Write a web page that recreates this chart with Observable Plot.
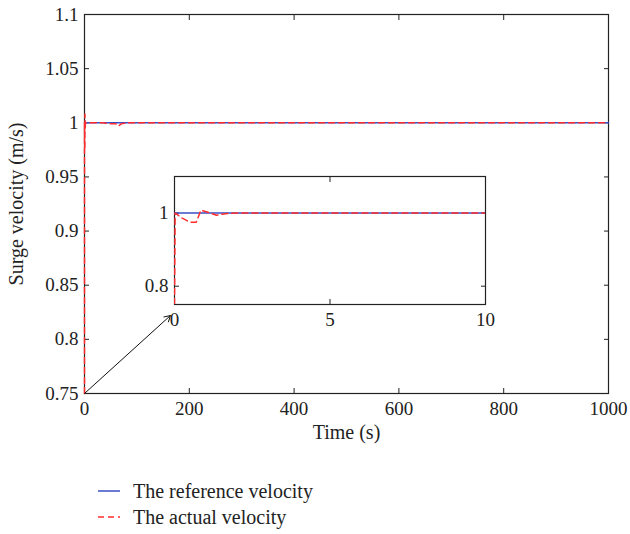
<!DOCTYPE html>
<html>
<head>
<meta charset="utf-8">
<script src="https://cdn.jsdelivr.net/npm/d3@7"></script>
<script src="https://cdn.jsdelivr.net/npm/@observablehq/plot@0.6"></script>
<style>
  body { margin: 0; background: #fff; }
  #wrap { position: relative; width: 630px; height: 534px; font-family: "Liberation Serif", "DejaVu Serif", serif; }
  #inset { position: absolute; left: 130px; top: 160px; }
  #legend { position: absolute; left: 0; top: 478px; font-size: 20px; color: #222; }
  .row { position: absolute; left: 98px; height: 26px; width: 320px; display: flex; align-items: center; white-space: nowrap; }
  .row svg { margin-right: 13px; }
</style>
</head>
<body>
<div id="wrap"></div>
<script>
// ---- data ----
const refTime = [0, 1000];
const refVel = [1, 1];
const actTime = [0, 0.02, 0.25, 0.5, 0.7, 0.85, 1.05, 1.35, 1.7, 2, 5, 10, 35, 50, 60, 65, 70, 80, 1000];
const actVel  = [0.75, 1.0, 0.986, 0.975, 0.975, 1.008, 1.003, 0.994, 0.999, 1, 1, 1, 1, 0.999, 0.999, 0.997, 0.999, 1, 1];
const mainXTicks = [0, 200, 400, 600, 800, 1000];
const mainYTicks = [0.75, 0.8, 0.85, 0.9, 0.95, 1, 1.05, 1.1];
const insetXTicks = [0, 5, 10];
const insetYTicks = [0.8, 1];
const arrowFrom = {t: 0, v: 0.75};
const arrowTo = {t: 164, v: 0.822};
const seriesNames = ["The reference velocity", "The actual velocity"];
const colors = ["#3a4fc4", "#ff2d2d"];

const refData = refTime.map((t, i) => ({t, v: refVel[i]}));
const actData = actTime.map((t, i) => ({t, v: actVel[i]}));
const fmt = d => String(+d.toFixed(2));
const FONT = "Liberation Serif";

const main = Plot.plot({
  width: 630, height: 460,
  marginLeft: 84, marginRight: 22, marginTop: 14, marginBottom: 67,
  style: {fontFamily: FONT, fontSize: "19px", color: "#222", background: "white"},
  x: {domain: [0, 1000]},
  y: {domain: [0.75, 1.1]},
  marks: [
    Plot.frame({stroke: "#222", strokeWidth: 1.2}),
    Plot.axisX({ticks: mainXTicks, tickSize: -5, tickPadding: 13, tickFormat: fmt, label: null}),
    Plot.axisX({anchor: "top", ticks: mainXTicks, tickSize: -5, tickFormat: () => "", label: null}),
    Plot.axisY({ticks: mainYTicks, tickSize: -5, tickPadding: 11, tickFormat: fmt, label: null}),
    Plot.axisY({anchor: "right", ticks: mainYTicks, tickSize: -5, tickFormat: () => "", label: null}),
    Plot.text(["Time (s)"], {frameAnchor: "bottom", dy: 45, fontSize: 20, textAnchor: "middle"}),
    Plot.text(["Surge velocity (m/s)"], {frameAnchor: "left", dx: -68, rotate: -90, fontSize: 20, textAnchor: "middle"}),
    Plot.line(refData, {x: "t", y: "v", stroke: colors[0], strokeWidth: 1.5}),
    Plot.line(actData, {x: "t", y: "v", stroke: colors[1], strokeWidth: 1.5, strokeDasharray: "6,4"}),
    Plot.arrow([{x1: arrowFrom.t, y1: arrowFrom.v, x2: arrowTo.t, y2: arrowTo.v}], {x1: "x1", y1: "y1", x2: "x2", y2: "y2", stroke: "#111", strokeWidth: 1, headLength: 10})
  ]
});

const inset = Plot.plot({
  width: 380, height: 180,
  marginLeft: 44, marginRight: 25, marginTop: 16, marginBottom: 36,
  style: {fontFamily: FONT, fontSize: "19px", color: "#222", background: "transparent"},
  x: {domain: [0, 10]},
  y: {domain: [0.75, 1.1]},
  marks: [
    Plot.frame({stroke: "#222", strokeWidth: 1.2, fill: "white"}),
    Plot.axisX({ticks: insetXTicks, tickSize: -5, tickPadding: 13, tickFormat: fmt, label: null}),
    Plot.axisX({anchor: "top", ticks: insetXTicks, tickSize: -5, tickFormat: () => "", label: null}),
    Plot.axisY({ticks: insetYTicks, tickSize: -5, tickPadding: 11, tickFormat: fmt, label: null}),
    Plot.axisY({anchor: "right", ticks: insetYTicks, tickSize: -5, tickFormat: () => "", label: null}),
    Plot.line(refData, {x: "t", y: "v", stroke: colors[0], strokeWidth: 1.5, clip: true}),
    Plot.line(actData, {x: "t", y: "v", stroke: colors[1], strokeWidth: 1.5, strokeDasharray: "6,4", clip: true})
  ]
});

const wrap = document.getElementById("wrap");
wrap.appendChild(main);
inset.id = "inset";
wrap.appendChild(inset);

const legend = document.createElement("div");
legend.id = "legend";
seriesNames.forEach((name, i) => {
  const row = document.createElement("div");
  row.className = "row";
  row.style.top = (i * 26) + "px";
  const dash = i === 1 ? ' stroke-dasharray="6,4"' : "";
  row.innerHTML = `<svg width="22" height="6"><line x1="0" y1="3" x2="22" y2="3" stroke="${colors[i]}" stroke-width="1.5"${dash}/></svg><span>${name}</span>`;
  legend.appendChild(row);
});
wrap.appendChild(legend);
</script>
</body>
</html>
